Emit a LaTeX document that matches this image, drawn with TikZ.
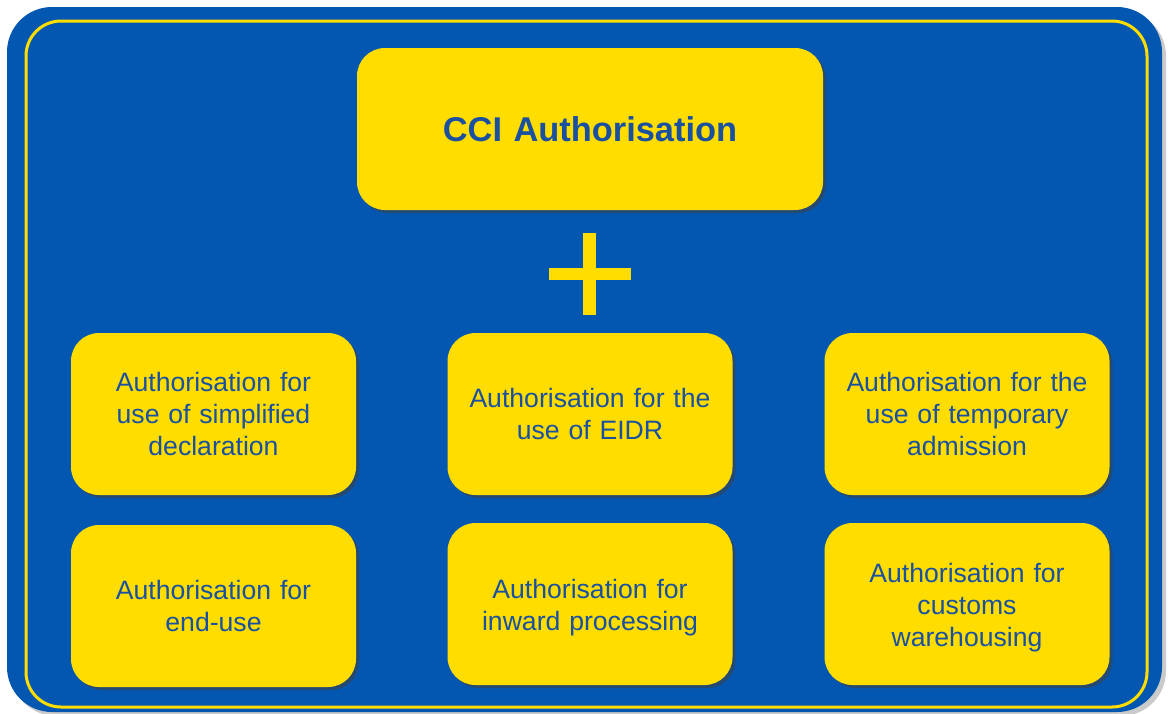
\documentclass[tikz,border=0pt]{standalone}
\usepackage{fontspec}
\setmainfont{Liberation Sans}
\usetikzlibrary{shadows}
\definecolor{bgblue}{HTML}{0457B0}
\definecolor{txtblue}{HTML}{1A50A0}
\definecolor{ylw}{HTML}{FFDD00}
\tikzset{
  shd/.style={drop shadow={shadow xshift=3pt, shadow yshift=-3pt, opacity=0.55, fill=black!75}},
  authbox/.style={shd, fill=ylw, rounded corners=28pt, minimum width=285pt, minimum height=162pt,
    inner sep=0pt, text width=270pt, align=center, text=txtblue,
    font=\fontsize{26.6}{32}\selectfont},
  lowtext/.style={execute at begin node={\rule{0pt}{26pt}}},
  titlebox/.style={authbox, minimum width=466pt, text width=450pt,
    font=\fontsize{34.4}{40}\selectfont\bfseries}
}
\begin{document}
\begin{tikzpicture}[x=1pt,y=-1pt]
\useasboundingbox (0,0) rectangle (1169,713);
\fill[white] (0,0) rectangle (1169,713);
% outer frame
\fill[black!40, opacity=0.5, rounded corners=45pt] (11,11) rectangle (1166,716);
\fill[bgblue, rounded corners=45pt] (7,7) rectangle (1162,712);
\draw[ylw, line width=3pt, rounded corners=35pt] (26,21) rectangle (1147,707);
% title
\node[titlebox] (cci) at (590,129) {CCI Authorisation};
% plus sign
\fill[ylw] (583,233) rectangle (596,315);
\fill[ylw] (549,268) rectangle (631,280);
% row 1
\node[authbox] (simp) at (213.5,414) {Authorisation for\\use of simplified\\declaration};
\node[authbox] (eidr) at (590,414) {Authorisation for the\\use of EIDR};
\node[authbox] (temp) at (967,414) {Authorisation for the\\use of temporary\\admission};
% row 2
\node[authbox] (endu) at (213.5,606) {Authorisation for\\end-use};
\node[authbox, lowtext] (inw) at (590,604) {Authorisation for\\inward processing};
\node[authbox, lowtext] (ware) at (967,604) {Authorisation for\\customs\\warehousing};
\end{tikzpicture}
\end{document}
